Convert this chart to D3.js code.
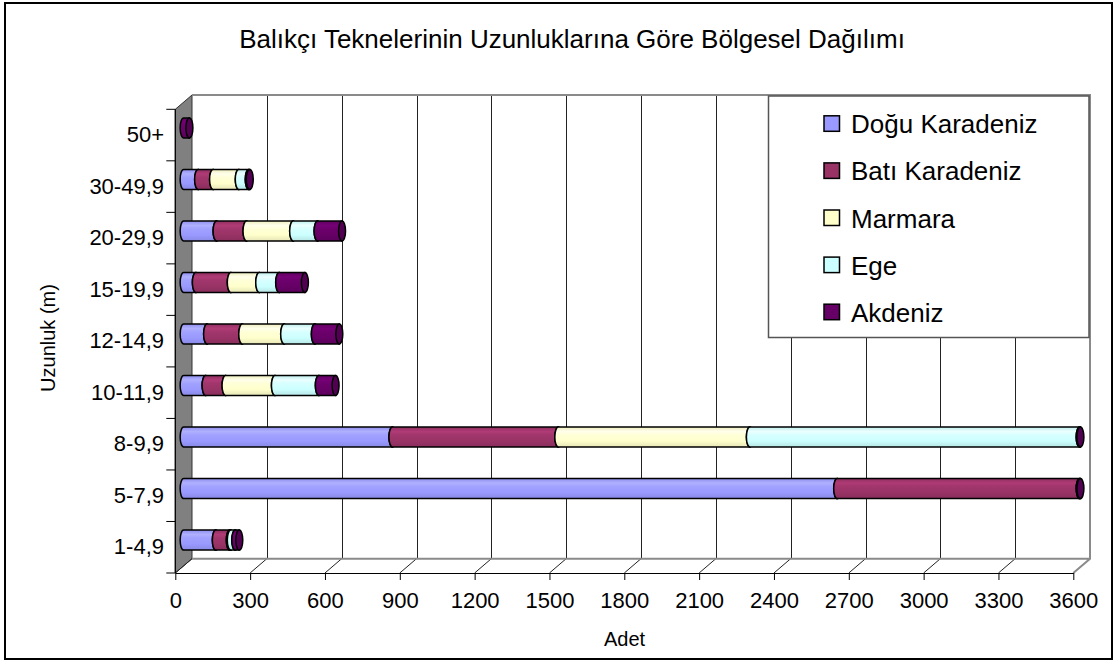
<!DOCTYPE html>
<html>
<head>
<meta charset="utf-8">
<script src="https://cdn.jsdelivr.net/npm/d3@7"></script>
<style>
  body { margin: 0; background: #fff; }
  svg { display: block; font-family: "Liberation Sans", Arial, sans-serif; }
</style>
</head>
<body>
<svg width="1118" height="662"></svg>
<script>
// data (bottom to top, like the original chart)
var categories = ["1-4,9", "5-7,9", "8-9,9", "10-11,9", "12-14,9", "15-19,9", "20-29,9", "30-49,9", "50+"];
var doguKaradeniz = [129, 2620, 837, 88, 94, 49, 132, 58, 0];
var batiKaradeniz = [56, 972, 665, 80, 141, 140, 120, 60, 0];
var marmara = [4, 0, 768, 198, 168, 114, 187, 103, 0];
var ege = [18, 0, 1322, 176, 123, 80, 98, 40, 0];
var akdeniz = [16, 3, 3, 67, 98, 103, 98, 4, 23];
var seriesNames = ["Doğu Karadeniz", "Batı Karadeniz", "Marmara", "Ege", "Akdeniz"];
var seriesColors = ["#9999FF", "#993366", "#FFFFCC", "#CCFFFF", "#660066"];
var xTicks = [0, 300, 600, 900, 1200, 1500, 1800, 2100, 2400, 2700, 3000, 3300, 3600];

var series = [doguKaradeniz, batiKaradeniz, marmara, ege, akdeniz];

var svg = d3.select("svg");

// outer frame
svg.append("rect")
    .attr("x", 5).attr("y", 3)
    .attr("width", 1107).attr("height", 656)
    .style("fill", "#fff").style("stroke", "#000").style("stroke-width", 2);

// title
svg.append("text")
    .attr("x", 572).attr("y", 47.5)
    .attr("text-anchor", "middle")
    .style("font-size", "26px")
    .text("Balıkçı Teknelerinin Uzunluklarına Göre Bölgesel Dağılımı");

// scales, with a fixed oblique depth offset for the 3d look
var x = d3.scaleLinear().domain([0, 3600]).range([175.3, 1073.3]);
var y = d3.scaleBand().domain(categories.slice().reverse()).range([109.3, 573]);
var dx = 16.7, dy = -14.3;
var floorY = 573, topY = 109.3;

var walls = svg.append("g");

// left side wall
walls.append("path")
    .attr("d", "M" + x(0) + "," + floorY + "L" + (x(0) + dx) + "," + (floorY + dy) +
               "L" + (x(0) + dx) + "," + (topY + dy) + "L" + x(0) + "," + topY + "Z")
    .style("fill", "#808080").style("stroke", "#333").style("stroke-width", 1);

// back wall grid lines
walls.selectAll(".grid")
    .data(xTicks.slice(1, -1))
    .enter().append("line")
    .attr("x1", function(d) { return Math.round(x(d) + dx) + 0.5; })
    .attr("x2", function(d) { return Math.round(x(d) + dx) + 0.5; })
    .attr("y1", floorY + dy).attr("y2", topY + dy)
    .style("stroke", "#222").style("stroke-width", 1);

// floor depth lines
walls.selectAll(".floor")
    .data(xTicks.slice(0, -1))
    .enter().append("line")
    .attr("x1", function(d) { return x(d); })
    .attr("x2", function(d) { return x(d) + dx; })
    .attr("y1", floorY).attr("y2", floorY + dy)
    .style("stroke", "#222").style("stroke-width", 1);

// gray edges of the back box
var xe = x(3600);
walls.append("path")
    .attr("d", "M" + (x(0) + dx) + "," + (floorY + dy) + "H" + (xe + dx) +
               "M" + xe + "," + floorY + "L" + (xe + dx) + "," + (floorY + dy) +
               "V" + (topY + dy) + "H" + (x(0) + dx))
    .style("fill", "none").style("stroke", "#8a8a8a").style("stroke-width", 2);

// y axis line + ticks
walls.append("line")
    .attr("x1", x(0)).attr("x2", x(0)).attr("y1", topY).attr("y2", floorY)
    .style("stroke", "#000").style("stroke-width", 1.2);
walls.selectAll(".ytick")
    .data(categories.concat(["top"]))
    .enter().append("line")
    .attr("x1", x(0) - 9).attr("x2", x(0))
    .attr("y1", function(d) { return d === "top" ? topY : y(d) + y.bandwidth(); })
    .attr("y2", function(d) { return d === "top" ? topY : y(d) + y.bandwidth(); })
    .style("stroke", "#000").style("stroke-width", 1);

// category labels
svg.append("g").selectAll("text")
    .data(categories)
    .enter().append("text")
    .attr("x", 164)
    .attr("y", function(d) { return y(d) + y.bandwidth() / 2 + 7; })
    .attr("text-anchor", "end")
    .style("font-size", "22px")
    .text(function(d) { return d; });

// x axis
var xAxis = svg.append("g")
    .attr("transform", "translate(0," + floorY + ")")
    .call(d3.axisBottom(x).tickValues(xTicks).tickFormat(d3.format("d"))
            .tickSize(7).tickPadding(12).tickSizeOuter(0));
xAxis.select(".domain").style("stroke", "#000").style("stroke-width", 1.2);
xAxis.selectAll(".tick line").style("stroke", "#000");
xAxis.selectAll("text")
    .style("font-size", "22px")
    .style("font-family", "'Liberation Sans', Arial, sans-serif")
    .style("fill", "#000");

// axis titles
svg.append("text")
    .attr("x", 624.5).attr("y", 646)
    .attr("text-anchor", "middle")
    .style("font-size", "20px")
    .text("Adet");
svg.append("text")
    .attr("transform", "translate(55,338) rotate(-90)")
    .attr("text-anchor", "middle")
    .style("font-size", "20px")
    .text("Uzunluk (m)");

// gradients for the cylinders
var defs = svg.append("defs");
seriesColors.forEach(function(c, i) {
  var g = defs.append("linearGradient")
      .attr("id", "cyl" + i)
      .attr("x1", 0).attr("y1", 0).attr("x2", 0).attr("y2", 1);
  var base = d3.color(c);
  var stops = [
    [0, base.darker(0.2)],
    [0.22, base.brighter(0.4)],
    [0.4, base.brighter(0.15)],
    [0.7, base],
    [1, base.darker(0.3)]
  ];
  stops.forEach(function(s) {
    g.append("stop").attr("offset", s[0]).attr("stop-color", s[1].formatHex());
  });
});

// stacked cylinders
var r = 10, rx = 3.5;
var bars = svg.append("g");
categories.forEach(function(cat, ci) {
  var cy = y(cat) + y.bandwidth() / 2 + dy / 2;
  var acc = 0;
  series.forEach(function(s, si) {
    var v = s[ci];
    if (!v) return;
    var xa = x(acc) + dx / 2;
    acc += v;
    var xb = x(acc) + dx / 2;
    bars.append("path")
        .attr("d", "M" + xb + "," + (cy - r) + "L" + xa + "," + (cy - r) +
                   "A" + rx + "," + r + " 0 0 0 " + xa + "," + (cy + r) +
                   "L" + xb + "," + (cy + r) + "Z")
        .style("fill", "url(#cyl" + si + ")")
        .style("stroke", "#000").style("stroke-width", 1.5);
    bars.append("ellipse")
        .attr("cx", xb).attr("cy", cy).attr("rx", rx).attr("ry", r)
        .style("fill", d3.color(seriesColors[si]).darker(0.6).formatHex())
        .style("stroke", "#000").style("stroke-width", 1.5);
  });
});

// legend
var legend = svg.append("g");
legend.append("rect")
    .attr("x", 768.5).attr("y", 96).attr("width", 320.5).attr("height", 241.5)
    .style("fill", "#fff").style("stroke", "#555").style("stroke-width", 1.5);
seriesNames.forEach(function(name, i) {
  var base = 133.3 + i * 47.1;
  legend.append("rect")
      .attr("x", 824).attr("y", base - 17.5)
      .attr("width", 15.5).attr("height", 15.5)
      .style("fill", seriesColors[i]).style("stroke", "#000").style("stroke-width", 1.5);
  legend.append("text")
      .attr("x", 851).attr("y", base)
      .style("font-size", "26px")
      .text(name);
});
</script>
</body>
</html>
